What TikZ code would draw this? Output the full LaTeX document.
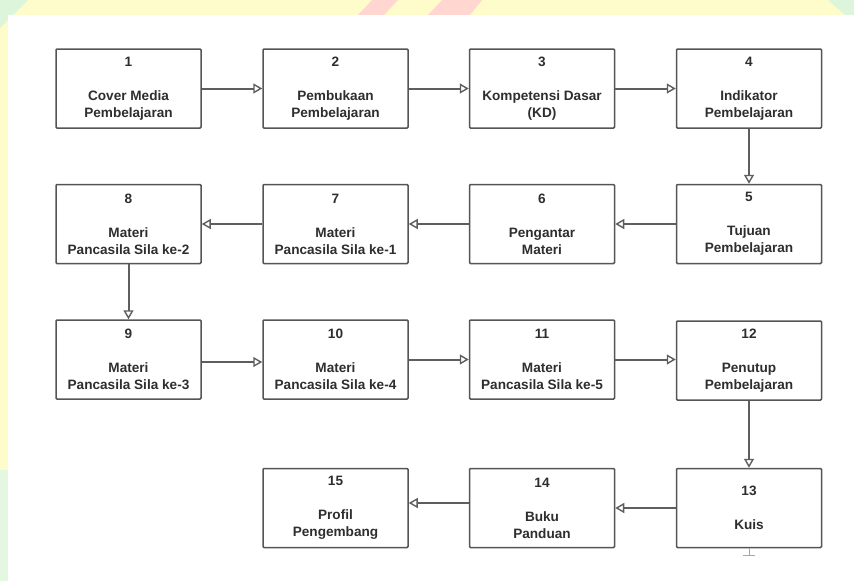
\documentclass[tikz,border=0pt]{standalone}
\usepackage{fontspec}
\setmainfont{Liberation Sans}
\usetikzlibrary{arrows.meta}
\definecolor{bgyellow}{HTML}{FFFCCB}
\definecolor{bgpink}{HTML}{FFD6D0}
\definecolor{bggreen}{HTML}{DDF5DA}
\definecolor{boxline}{HTML}{555555}
\definecolor{arrline}{HTML}{5E5E5E}
\definecolor{txt}{HTML}{2E2E2E}
\tikzset{
  stepbox/.style={draw=boxline, line width=1.5pt, rounded corners=1pt, fill=white,
    minimum width=145pt, minimum height=79pt, inner sep=0pt, align=center,
    font=\fontsize{13.6}{17}\selectfont\bfseries, text=txt},
  flow/.style={draw=arrline, line width=2pt, -{Triangle[open, length=9pt, width=10pt, line width=1.4pt]}},
  stub/.style={draw=gray!70, line width=1pt, -{Bar[width=12pt, line width=1pt]}},
}
\begin{document}
\begin{tikzpicture}[x=1pt, y=-1pt]
\useasboundingbox (0,0) rectangle (854,581);
% background
\fill[bgyellow] (0,0) rectangle (854,581);
\fill[bggreen] (0,0) -- (28,0) -- (0,28) -- cycle;
\fill[bggreen] (828,0) -- (854,0) -- (854,15) -- (845,15) -- cycle;
\fill[bggreen!80] (0,470) rectangle (8,581);
\fill[bgpink] (358,15) -- (372,0) -- (398,0) -- (384,15) -- cycle;
\fill[bgpink] (428,15) -- (442,0) -- (482,0) -- (470,15) -- cycle;
\fill[white] (8,15) rectangle (854,581);
% boxes
\node[stepbox] (b1)  at (128.5,88.5) {1\\[17pt]Cover Media\\Pembelajaran};
\node[stepbox] (b2)  at (335.5,88.5) {2\\[17pt]Pembukaan\\Pembelajaran};
\node[stepbox] (b3)  at (542,88.5)   {3\\[17pt]Kompetensi Dasar\\(KD)};
\node[stepbox] (b4)  at (749,88.5)   {4\\[17pt]Indikator\\Pembelajaran};
\node[stepbox] (b5)  at (749,224)    {5\\[17pt]Tujuan\\Pembelajaran};
\node[stepbox] (b6)  at (542,224)    {6\\[17pt]Pengantar\\Materi};
\node[stepbox] (b7)  at (335.5,224)  {7\\[17pt]Materi\\Pancasila Sila ke-1};
\node[stepbox] (b8)  at (128.5,224)  {8\\[17pt]Materi\\Pancasila Sila ke-2};
\node[stepbox] (b9)  at (128.5,359.5) {9\\[17pt]Materi\\Pancasila Sila ke-3};
\node[stepbox] (b10) at (335.5,359.5) {10\\[17pt]Materi\\Pancasila Sila ke-4};
\node[stepbox] (b11) at (542,359.5)   {11\\[17pt]Materi\\Pancasila Sila ke-5};
\node[stepbox] (b12) at (749,360.5)   {12\\[17pt]Penutup\\Pembelajaran};
\node[stepbox] (b13) at (749,508)     {13\\[17pt]Kuis};
\node[stepbox] (b14) at (542,508)     {14\\[17pt]Buku\\Panduan};
\node[stepbox] (b15) at (335.5,508)   {15\\[17pt]Profil\\Pengembang};
% connectors
\draw[flow] (b1) -- (b2);
\draw[flow] (b2) -- (b3);
\draw[flow] (b3) -- (b4);
\draw[flow] (b4) -- (b5);
\draw[flow] (b5) -- (b6);
\draw[flow] (b6) -- (b7);
\draw[flow] (b7) -- (b8);
\draw[flow] (b8) -- (b9);
\draw[flow] ([yshift=-2.5pt]b9.east) -- ([yshift=-2.5pt]b10.west);
\draw[flow] (b10.east) -- (b11.west);
\draw[flow] (b11.east) -- (b11.east -| b12.west);
\draw[flow] (b12) -- (b13);
\draw[flow] (b13) -- (b14);
\draw[flow] ([yshift=5pt]b14.west) -- ([yshift=5pt]b15.east);
\coordinate (stubend) at ([yshift=-8pt]b13.south);
\draw[stub] (b13.south) -- (stubend);
\end{tikzpicture}
\end{document}
